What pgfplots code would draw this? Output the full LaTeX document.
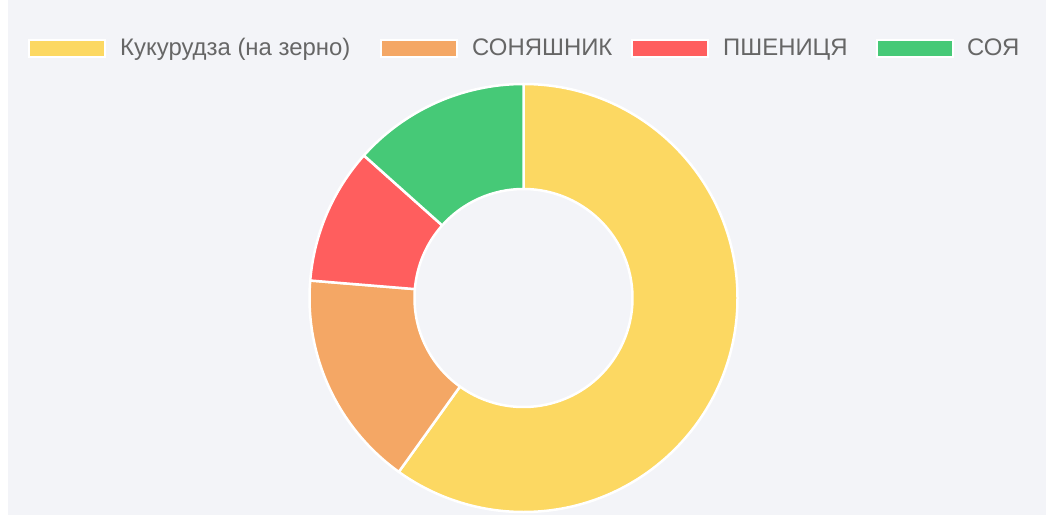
\documentclass[border=0pt]{standalone}
\usepackage{pgfplots}
\usepackage{pgfplotstable}
\pgfplotsset{compat=1.18}
\usepackage{fontspec}
\setmainfont{Liberation Sans}
\definecolor{bgc}{RGB}{243,244,248}
\definecolor{c1}{RGB}{252,216,98}
\definecolor{c2}{RGB}{244,167,101}
\definecolor{c3}{RGB}{255,94,94}
\definecolor{c4}{RGB}{70,201,119}
\definecolor{txt}{RGB}{102,102,102}
\pgfplotstableread{
idx value
0 59.9
1 16.4
2 10.3
3 13.4
}\datatable
\pgfplotstablegetelem{0}{value}\of\datatable \edef\va{\pgfplotsretval}
\pgfplotstablegetelem{1}{value}\of\datatable \edef\vb{\pgfplotsretval}
\pgfplotstablegetelem{2}{value}\of\datatable \edef\vc{\pgfplotsretval}
\pgfplotstablegetelem{3}{value}\of\datatable \edef\vd{\pgfplotsretval}
\pgfmathsetmacro{\tot}{\va+\vb+\vc+\vd}
\pgfmathsetmacro{\aa}{90}
\pgfmathsetmacro{\ab}{90-360*(\va/\tot)}
\pgfmathsetmacro{\ac}{\ab-360*(\vb/\tot)}
\pgfmathsetmacro{\ad}{\ac-360*(\vc/\tot)}
\pgfmathsetmacro{\ae}{-270}
\newcommand{\sector}[3]{%
  \filldraw[fill=#3,draw=white,line width=2.5bp,line join=round]
    ([shift={(#1:214bp)}]axis cs:523.5,223) arc[start angle=#1,end angle=#2,radius=214bp]
    -- ([shift={(#2:109bp)}]axis cs:523.5,223) arc[start angle=#2,end angle=#1,radius=109bp] -- cycle;}
\newcommand{\legitem}[4]{%
  \filldraw[fill=#2,draw=white,line width=2bp] (axis cs:#1+1,481) rectangle (axis cs:#1+77,464);
  \node[anchor=base west,inner sep=0pt,text=txt,font=\fontsize{24}{28}\selectfont] at (axis cs:#4,465) {#3};}
\begin{document}
\begin{tikzpicture}
\begin{axis}[width=1046bp,height=521bp,scale only axis,
  xmin=0,xmax=1046,ymin=0,ymax=521,hide axis,clip=false]
\fill[white] (axis cs:0,0) rectangle (axis cs:1046,521);
\fill[bgc] (axis cs:8,6) rectangle (axis cs:1046,521);
\sector{\aa}{\ab}{c1}
\sector{\ab}{\ac}{c2}
\sector{\ac}{\ad}{c3}
\sector{\ad}{\ae}{c4}
\legitem{28}{c1}{Кукурудза (на зерно)}{120}
\legitem{380}{c2}{СОНЯШНИК}{472}
\legitem{631}{c3}{ПШЕНИЦЯ}{723}
\legitem{876}{c4}{СОЯ}{967}
\end{axis}
\end{tikzpicture}
\end{document}
